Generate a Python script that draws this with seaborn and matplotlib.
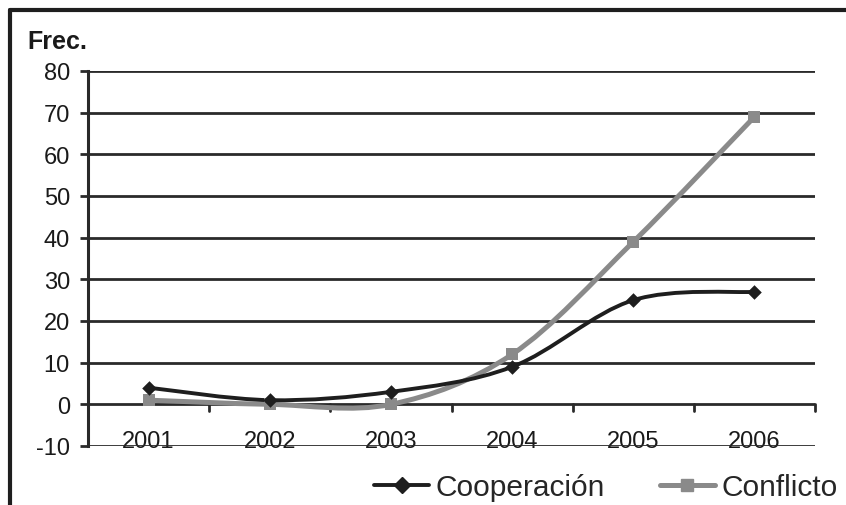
# Frecuencia de cooperación y conflicto 2001-2006

import numpy as np
import pandas as pd
import matplotlib
matplotlib.use('Agg')
import matplotlib.pyplot as plt
from matplotlib.path import Path
from matplotlib.patches import PathPatch
from matplotlib.lines import Line2D
import seaborn as sns

# Data.
years = ['2001', '2002', '2003', '2004', '2005', '2006']
cooperacion = [4, 1, 3, 9, 25, 27]
conflicto = [1, 0, 0, 12, 39, 69]
y_ticks = [-10, 0, 10, 20, 30, 40, 50, 60, 70, 80]

sns.set_theme(style='white')
plt.rcParams['font.family'] = ['Liberation Sans', 'DejaVu Sans']

x_pos = np.arange(len(years))
df = pd.DataFrame({'x': np.concatenate([x_pos, x_pos]),
                   'frec': cooperacion + conflicto,
                   'serie': ['Cooperación'] * len(years) + ['Conflicto'] * len(years)})

dark = '#1e1e1e'
grey = '#8a8a8a'
grid_col = '#2a2a2a'


# Excel-style smoothed line: cubic Bezier through the data points.
def smooth_path(xs, ys):
    n = len(xs)
    verts = [(xs[0], ys[0])]
    codes = [Path.MOVETO]
    for i in range(n - 1):
        x0, y0 = xs[i], ys[i]
        x1, y1 = xs[i + 1], ys[i + 1]
        xp, yp = (xs[i - 1], ys[i - 1]) if i > 0 else (x0, y0)
        xn, yn = (xs[i + 2], ys[i + 2]) if i + 2 < n else (x1, y1)
        c1 = (x0 + (x1 - xp) / 6, y0 + (y1 - yp) / 6)
        c2 = (x1 - (xn - x0) / 6, y1 - (yn - y0) / 6)
        verts += [c1, c2, (x1, y1)]
        codes += [Path.CURVE4] * 3
    return Path(verts, codes)


fig = plt.figure(figsize=(8.46, 5.06), dpi=100)
ax = fig.add_axes([88 / 846, 1 - 447 / 506, (815 - 88) / 846, (447 - 72) / 506])

# horizontal gridlines
for yv in y_ticks:
    ax.axhline(yv, color=grid_col, lw=2.0, zorder=1)

# smoothed lines
ax.add_patch(PathPatch(smooth_path(x_pos, conflicto), facecolor='none',
                       edgecolor=grey, lw=3.6, zorder=3, capstyle='round'))
ax.add_patch(PathPatch(smooth_path(x_pos, cooperacion), facecolor='none',
                       edgecolor=dark, lw=2.8, zorder=4, capstyle='round'))

# markers
sns.scatterplot(data=df[df['serie'] == 'Conflicto'], x='x', y='frec', marker='s',
                s=80, color=grey, edgecolor=grey, linewidth=0, ax=ax, zorder=5, legend=False)
sns.scatterplot(data=df[df['serie'] == 'Cooperación'], x='x', y='frec', marker='D',
                s=55, color=dark, edgecolor=dark, linewidth=0, ax=ax, zorder=6, legend=False)

ax.set_xlim(-0.5, len(years) - 0.5)
ax.set_ylim(-10, 80)
ax.set_xlabel('')
ax.set_ylabel('')

# y axis
ax.set_yticks(y_ticks)
ax.set_yticklabels([str(v) for v in y_ticks], fontsize=17, color='#1a1a1a')
ax.tick_params(axis='y', direction='out', length=6, width=2, color=grid_col, pad=7, left=True)

# category axis sits at y = 0 with boundary ticks
ax.set_xticks([])
for spine in ['top', 'right', 'bottom']:
    ax.spines[spine].set_visible(False)
ax.spines['left'].set_color(grid_col)
ax.spines['left'].set_linewidth(2.2)
for b in np.arange(len(years) + 1) - 0.5:
    ax.plot([b, b], [0, -1.5], color=grid_col, lw=2, zorder=2, clip_on=False)
for xi, yr in zip(x_pos, years):
    ax.text(xi, -8.9, yr, ha='center', va='center', fontsize=17, color='#1a1a1a', zorder=0)

fig.text(27 / 846, 1 - 42 / 506, 'Frec.', fontsize=18, fontweight='bold',
         ha='left', va='center', color='#1a1a1a')

# legend
handles = [Line2D([], [], color=dark, lw=2.8, marker='D', markersize=8),
           Line2D([], [], color=grey, lw=3.6, marker='s', markersize=9)]
ax.legend(handles, ['Cooperación', 'Conflicto'], loc='center left',
          bbox_to_anchor=(374 / 846, 1 - 488 / 506), bbox_transform=fig.transFigure,
          ncol=2, frameon=False, borderpad=0, borderaxespad=0,
          handlelength=1.85, handletextpad=0.2, columnspacing=1.85,
          prop={'size': 21.5})

# outer frame (left and top edges visible)
fig.add_artist(Line2D([10 / 846, 10 / 846], [0, 1 - 11 / 506], transform=fig.transFigure,
                      color=dark, lw=3))
fig.add_artist(Line2D([10 / 846, 1], [1 - 11 / 506, 1 - 11 / 506], transform=fig.transFigure,
                      color=dark, lw=3))

fig.savefig('out.png', dpi=100)
